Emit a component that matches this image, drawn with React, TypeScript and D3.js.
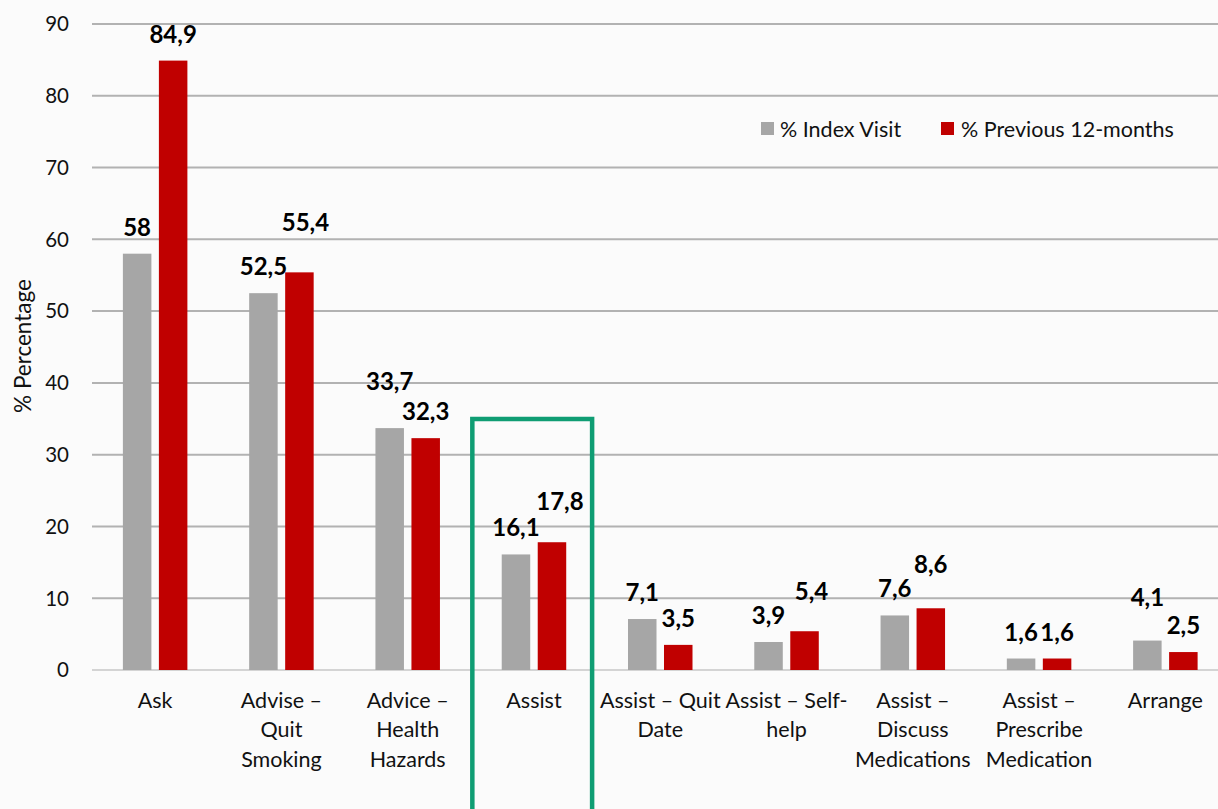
import React from "react";
import * as d3 from "d3";

const categories: string[][] = [
  ["Ask"],
  ["Advise –", "Quit", "Smoking"],
  ["Advice –", "Health", "Hazards"],
  ["Assist"],
  ["Assist – Quit", "Date"],
  ["Assist – Self-", "help"],
  ["Assist –", "Discuss", "Medications"],
  ["Assist –", "Prescribe", "Medication"],
  ["Arrange"],
];
const indexVisit = [58, 52.5, 33.7, 16.1, 7.1, 3.9, 7.6, 1.6, 4.1];
const previous12 = [84.9, 55.4, 32.3, 17.8, 3.5, 5.4, 8.6, 1.6, 2.5];
const yTicks = [0, 10, 20, 30, 40, 50, 60, 70, 80, 90];
const seriesNames = ["% Index Visit", "% Previous 12-months"];
const highlighted = 3;

// label placement tweaks (px)
const liftIndex = [0, 0, 20, 0, 0, 0, 0, 0, 17];
const liftPrev = [0, 23, 0, 14, 0, 13, 17, 0, 0];
const shiftPrev = [0, 6, 0, 8, 0, 7, 0, 0, 0];

const W = 1218;
const H = 809;
const M = { left: 92, right: 1228.5, top: 24, bottom: 670 };
const COLORS = ["#a6a6a6", "#c00000"];
const FONT = "Lato, 'Open Sans', sans-serif";
const fmt = (v: number) => String(v).replace(".", ",");

export default function App() {
  const x = d3
    .scaleBand<number>()
    .domain(categories.map((_, i) => i))
    .range([M.left, M.right]);
  const y = d3.scaleLinear().domain([0, 90]).range([M.bottom, M.top]);
  const bw = 28.5;
  const gap = 7.5;
  const c = (i: number) => (x(i) as number) + x.bandwidth() / 2;
  const bx = (i: number, s: number) =>
    s === 0 ? c(i) - gap / 2 - bw : c(i) + gap / 2;

  const series = [indexVisit, previous12];
  const hx = (x(highlighted) as number) + 1.5;

  return (
    <div style={{ position: "fixed", left: 0, top: 0 }}>
      <svg width={W} height={H} style={{ display: "block", background: "#fbfbfb" }}>
        {yTicks.map((t) => (
          <g key={t}>
            <line
              x1={M.left}
              x2={W}
              y1={y(t)}
              y2={y(t)}
              stroke={t === 0 ? "#d4d4d4" : "#b2b2b2"}
              strokeWidth={2}
            />
            <text
              x={69}
              y={y(t)}
              dy="0.36em"
              textAnchor="end"
              fontFamily={FONT}
              fontSize={20.5}
              fill="#111"
            >
              {t}
            </text>
          </g>
        ))}
        <text
          transform={`translate(31,346) rotate(-90)`}
          textAnchor="middle"
          fontFamily={FONT}
          fontSize={22.5}
          fill="#111"
        >
          % Percentage
        </text>

        {series.map((vals, s) =>
          vals.map((v, i) => (
            <rect
              key={`b${s}-${i}`}
              x={bx(i, s)}
              y={y(v)}
              width={bw}
              height={y(0) - y(v)}
              fill={COLORS[s]}
            />
          ))
        )}

        {series.map((vals, s) =>
          vals.map((v, i) => (
            <text
              key={`l${s}-${i}`}
              x={bx(i, s) + bw / 2 + (s === 1 ? shiftPrev[i] : 0)}
              y={y(v) - 18 - (s === 0 ? liftIndex[i] : liftPrev[i])}
              textAnchor="middle"
              fontFamily={FONT}
              fontWeight={700}
              fontSize={24}
              fill="#000"
            >
              {fmt(v)}
            </text>
          ))
        )}

        {categories.map((lines, i) => (
          <text
            key={`c${i}`}
            x={c(i)}
            y={707.5}
            textAnchor="middle"
            fontFamily={FONT}
            fontSize={21.5}
            fill="#111"
          >
            {lines.map((ln, k) => (
              <tspan key={k} x={c(i)} dy={k === 0 ? 0 : 29.5}>
                {ln}
              </tspan>
            ))}
          </text>
        ))}

        <path
          d={`M${hx},${H + 5} V419 H${hx + x.bandwidth() - 6.5} V${H + 5}`}
          fill="none"
          stroke="#0f9d73"
          strokeWidth={4.5}
        />

        <g fontFamily={FONT} fontSize={21.5} fill="#111">
          <rect x={761} y={122} width={13} height={13} fill={COLORS[0]} />
          <text x={780} y={129} dy="0.36em">
            {seriesNames[0]}
          </text>
          <rect x={941} y={122} width={13} height={13} fill={COLORS[1]} />
          <text x={961} y={129} dy="0.36em">
            {seriesNames[1]}
          </text>
        </g>
      </svg>
    </div>
  );
}
